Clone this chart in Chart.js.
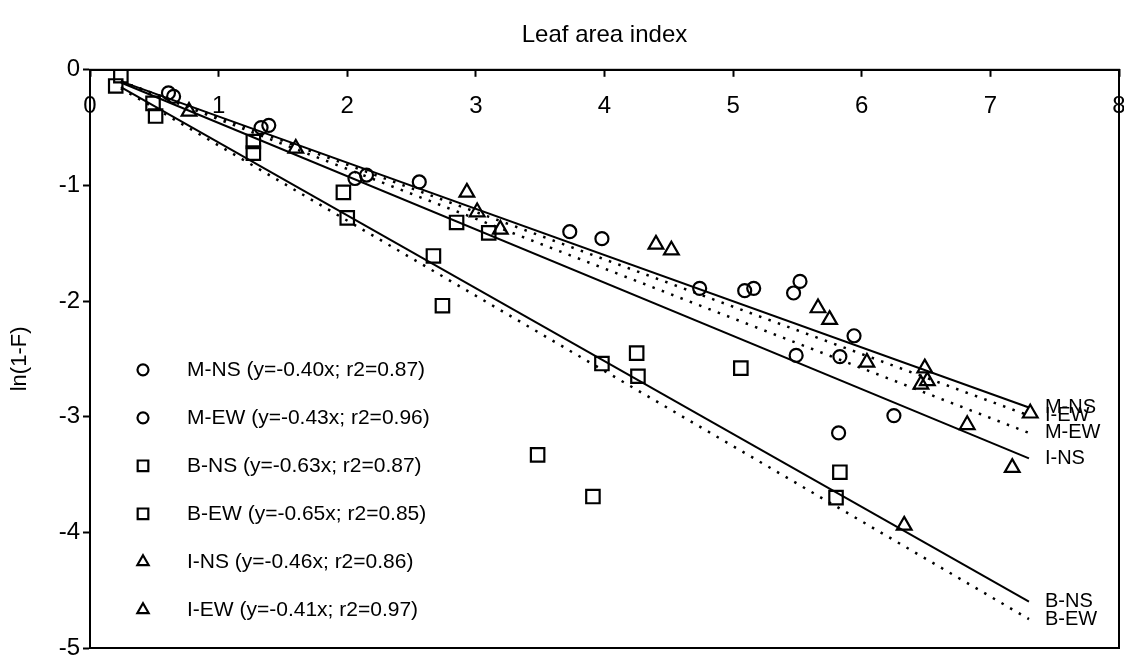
<!DOCTYPE html>
<html>
<head>
<meta charset="utf-8">
<script src="https://cdn.jsdelivr.net/npm/chart.js@4.4.1/dist/chart.umd.min.js"></script>
<style>
  html, body { margin: 0; padding: 0; background: #fff; }
  #wrap { width: 1124px; height: 656px; }
</style>
</head>
<body>
<div id="wrap"><canvas id="chart"></canvas></div>
<script>
// measured points, [leaf area index, ln(1-F)]
const mnsPts = [[0.61,-0.20],[1.39,-0.48],[2.15,-0.91],[2.56,-0.97],[3.73,-1.40],[3.98,-1.46],[5.52,-1.83],[5.47,-1.93],[5.94,-2.30],[6.25,-2.99],[5.82,-3.14]];
const mewPts = [[0.65,-0.23],[1.33,-0.50],[2.06,-0.94],[4.74,-1.89],[5.09,-1.91],[5.16,-1.89],[5.49,-2.47],[5.83,-2.48]];
const bnsPts = [[0.24,-0.05],[0.49,-0.29],[1.27,-0.62],[1.97,-1.06],[2.85,-1.32],[3.10,-1.41],[3.48,-3.33],[3.98,-2.54],[4.25,-2.45],[5.06,-2.58],[5.83,-3.48]];
const bewPts = [[0.20,-0.14],[0.51,-0.40],[1.27,-0.72],[2.00,-1.28],[2.67,-1.61],[2.74,-2.04],[3.91,-3.69],[4.26,-2.65],[5.80,-3.70]];
const insPts = [[0.77,-0.36],[2.93,-1.06],[3.19,-1.38],[4.40,-1.51],[5.75,-2.16],[6.04,-2.53],[6.46,-2.72],[6.82,-3.07],[7.17,-3.44],[6.33,-3.94]];
const iewPts = [[1.60,-0.68],[3.01,-1.23],[4.52,-1.56],[5.66,-2.06],[6.49,-2.58],[6.51,-2.69],[7.31,-2.97]];

const seriesNames = [
  'M-NS (y=-0.40x; r2=0.87)',
  'M-EW (y=-0.43x; r2=0.96)',
  'B-NS (y=-0.63x; r2=0.87)',
  'B-EW (y=-0.65x; r2=0.85)',
  'I-NS (y=-0.46x; r2=0.86)',
  'I-EW (y=-0.41x; r2=0.97)'
];

// regression lines: start / end of each line
const fitNames = ['M-NS', 'I-EW', 'M-EW', 'I-NS', 'B-NS', 'B-EW'];
const fitX = [0.24, 7.3];
const fitStart = [-0.10, -0.10, -0.10, -0.11, -0.15, -0.16];
const fitEnd = [-2.92, -2.99, -3.14, -3.36, -4.60, -4.75];

const FONT = '"Liberation Sans", Arial, sans-serif';
const toXY = pts => pts.map(p => ({ x: p[0], y: p[1] }));

const markerSets = [mnsPts, mewPts, bnsPts, bewPts, insPts, iewPts];
const styles = ['circle', 'circle', 'rect', 'rect', 'triangle', 'triangle'];
const sizes = { circle: 6.5, rect: 9.5, triangle: 8.5 };
const legendSizes = { circle: 5.5, rect: 7.5, triangle: 6.5 };

const datasets = markerSets.map((pts, i) => ({
  label: seriesNames[i],
  data: toXY(pts),
  showLine: false,
  pointStyle: styles[i],
  pointRadius: sizes[styles[i]],
  pointBorderWidth: 2.2,
  pointBorderColor: '#000',
  pointBackgroundColor: 'rgba(0,0,0,0)'
}));

fitNames.forEach((name, i) => {
  datasets.push({
    label: name,
    data: [{ x: fitX[0], y: fitStart[i] }, { x: fitX[1], y: fitEnd[i] }],
    showLine: true,
    pointRadius: 0,
    borderColor: '#000',
    borderWidth: name.endsWith('EW') ? 2.5 : 2,
    borderDash: name.endsWith('EW') ? [2.5, 7.5] : []
  });
});

function drawMarker(ctx, style, r, x, y) {
  if (Chart.helpers && Chart.helpers.drawPoint) {
    Chart.helpers.drawPoint(ctx, { pointStyle: style, radius: r, rotation: 0, borderWidth: 2.2 }, x, y);
    return;
  }
  ctx.beginPath();
  if (style === 'circle') ctx.arc(x, y, r, 0, Math.PI * 2);
  else if (style === 'rect') ctx.rect(x - r * 0.707, y - r * 0.707, r * 1.414, r * 1.414);
  else { ctx.moveTo(x, y - r); ctx.lineTo(x + r * 0.866, y + r / 2); ctx.lineTo(x - r * 0.866, y + r / 2); ctx.closePath(); }
  ctx.stroke();
}

const extras = {
  id: 'extras',
  afterDatasetsDraw(chart) {
    const { ctx, chartArea: a, scales: { x, y } } = chart;
    ctx.save();
    ctx.strokeStyle = '#000';
    ctx.lineWidth = 2;
    ctx.strokeRect(a.left, a.top, a.right - a.left, a.bottom - a.top);

    // labels at the end of each fitted line
    ctx.fillStyle = '#000';
    ctx.font = '20px ' + FONT;
    ctx.textAlign = 'left';
    ctx.textBaseline = 'middle';
    fitNames.forEach((name, i) => {
      ctx.fillText(name, x.getPixelForValue(fitX[1]) + 16, y.getPixelForValue(fitEnd[i]));
    });

    // legend inside the plot, lower left
    ctx.fillStyle = 'rgba(0,0,0,0)';
    ctx.lineWidth = 2.2;
    seriesNames.forEach((name, i) => {
      drawMarker(ctx, styles[i], legendSizes[styles[i]], a.left + 53, a.top + 300 + i * 48);
    });
    ctx.fillStyle = '#000';
    ctx.font = '21px ' + FONT;
    seriesNames.forEach((name, i) => {
      ctx.fillText(name, a.left + 97, a.top + 300 + i * 48);
    });
    ctx.restore();
  }
};

new Chart(document.getElementById('chart'), {
  type: 'scatter',
  data: { datasets },
  options: {
    responsive: true,
    maintainAspectRatio: false,
    animation: false,
    devicePixelRatio: 1,
    layout: { autoPadding: false, padding: { left: 0, right: 5, top: 0, bottom: 8 } },
    plugins: {
      legend: { display: false },
      tooltip: { enabled: false },
      title: {
        display: true,
        text: 'Leaf area index',
        fullSize: false,
        color: '#000',
        font: { size: 24, family: FONT, weight: 'normal' },
        padding: { top: 21, bottom: 8 }
      }
    },
    scales: {
      x: {
        type: 'linear',
        position: 'top',
        min: 0,
        max: 8,
        ticks: { stepSize: 1, mirror: true, padding: 22, maxRotation: 0, color: '#000', font: { size: 24, family: FONT } },
        grid: { drawOnChartArea: false, drawTicks: true, tickLength: -7, tickWidth: 2, tickColor: '#000' },
        border: { color: '#000', width: 2 },
        afterFit(s) { s.height = 12; s.paddingLeft = 0; s.paddingRight = 0; }
      },
      y: {
        min: -5,
        max: 0,
        ticks: { stepSize: 1, padding: 3, color: '#000', font: { size: 24, family: FONT } },
        grid: { drawOnChartArea: false, drawTicks: true, tickLength: 7, tickWidth: 2, tickColor: '#000' },
        border: { color: '#000', width: 2 },
        title: { display: true, text: 'ln(1-F)', color: '#000', font: { size: 22, family: FONT }, padding: { top: 7, bottom: 0 } },
        afterFit(s) { s.width = 90; s.paddingTop = 0; s.paddingBottom = 0; }
      }
    }
  },
  plugins: [extras]
});
</script>
</body>
</html>
